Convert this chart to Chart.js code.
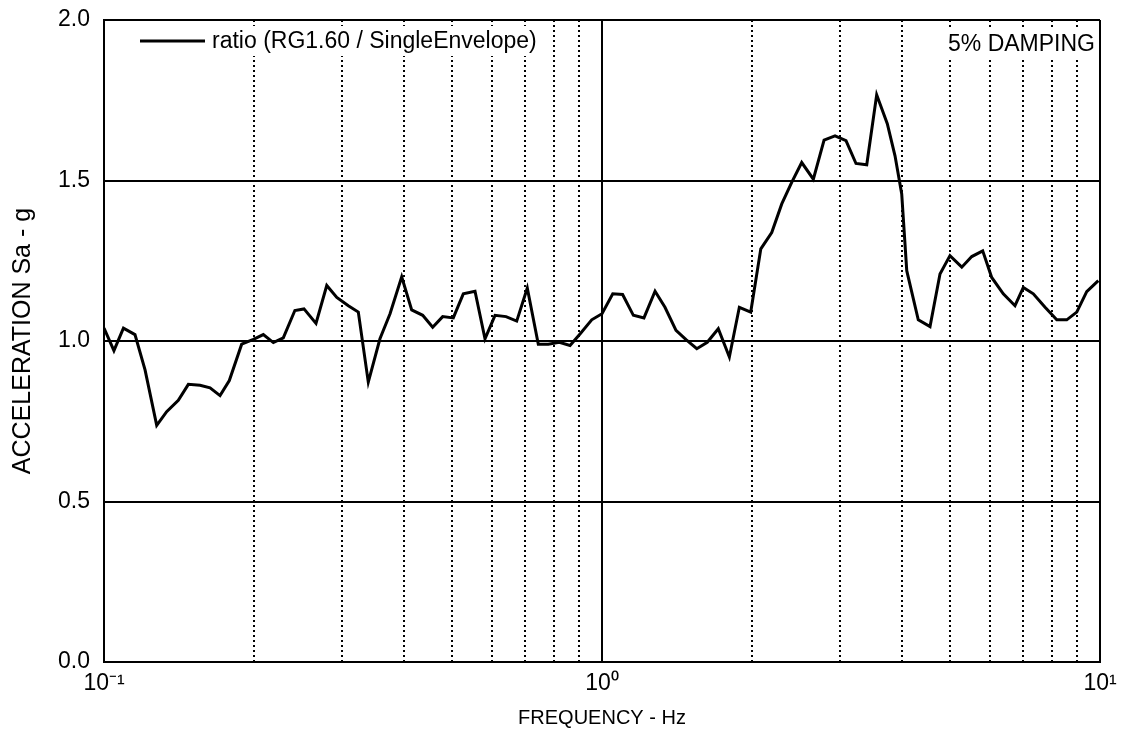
<!DOCTYPE html>
<html>
<head>
<meta charset="utf-8">
<script src="https://cdn.jsdelivr.net/npm/chart.js@4.4.1/dist/chart.umd.min.js"></script>
<style>
  html, body { margin: 0; padding: 0; background: #fff; }
  #wrap { width: 1121px; height: 744px; }
</style>
</head>
<body>
<div id="wrap"><canvas id="chart"></canvas></div>
<script>
// frequency (Hz) and spectral ratio
const frequency = [
  0.100, 0.1047, 0.1094, 0.1154, 0.1209, 0.1276, 0.1336, 0.1410, 0.1477, 0.1559,
  0.1633, 0.1710, 0.1785, 0.1890, 0.1995, 0.2089, 0.2188, 0.2291, 0.2417, 0.2521,
  0.2665, 0.2801, 0.2934, 0.3095, 0.3241, 0.3394, 0.3582, 0.3753, 0.3961, 0.4148,
  0.4365, 0.4571, 0.4787, 0.5028, 0.5266, 0.5559, 0.5822, 0.6098, 0.6417, 0.6741,
  0.7079, 0.7449, 0.7800, 0.8210, 0.8625, 0.9033, 0.9535, 1.000, 1.051, 1.100,
  1.156, 1.214, 1.278, 1.338, 1.408, 1.475, 1.550, 1.627, 1.712, 1.802,
  1.887, 1.989, 2.084, 2.192, 2.296, 2.404, 2.518, 2.657, 2.792, 2.937,
  3.090, 3.236, 3.401, 3.561, 3.740, 3.876, 3.998, 4.092, 4.316, 4.557,
  4.772, 4.997, 5.278, 5.527, 5.814, 6.061, 6.394, 6.750, 7.015, 7.347,
  7.757, 8.188, 8.575, 8.981, 9.404, 9.922
];
const ratio = [
  1.04, 0.97, 1.04, 1.02, 0.91, 0.737, 0.78, 0.815, 0.865, 0.862,
  0.854, 0.83, 0.877, 0.99, 1.005, 1.02, 0.995, 1.01, 1.095, 1.10,
  1.055, 1.173, 1.136, 1.11, 1.09, 0.872, 1.007, 1.085, 1.20, 1.097,
  1.08, 1.043, 1.076, 1.072, 1.147, 1.155, 1.007, 1.08, 1.076, 1.062,
  1.165, 0.99, 0.99, 0.996, 0.986, 1.022, 1.066, 1.085, 1.147, 1.145,
  1.08, 1.072, 1.155, 1.105, 1.033, 1.004, 0.976, 0.996, 1.038, 0.95,
  1.105, 1.09, 1.287, 1.338, 1.427, 1.494, 1.556, 1.504, 1.626, 1.639,
  1.624, 1.553, 1.549, 1.767, 1.677, 1.577, 1.458, 1.219, 1.066, 1.045,
  1.209, 1.266, 1.23, 1.263, 1.281, 1.198, 1.147, 1.11, 1.167, 1.147,
  1.105, 1.066, 1.066, 1.09, 1.154, 1.188
];

const seriesLabel = 'ratio (RG1.60 / SingleEnvelope)';
const noteText = '5% DAMPING';
const xMajorTicks = [0.1, 1, 10];
const xMajorLabels = ['10\u207B\u00B9', '10\u2070', '10\u00B9'];
const xMinorTicks = [0.2, 0.3, 0.4, 0.5, 0.6, 0.7, 0.8, 0.9, 2, 3, 4, 5, 6, 7, 8, 9];
const yTicks = [0, 0.5, 1.0, 1.5, 2.0];

const FONT = 'Arial, "Liberation Sans", sans-serif';

// legend box and damping note, drawn inside the plot
const overlayText = {
  id: 'overlayText',
  beforeDatasetsDraw(chart) {
    const { ctx, chartArea } = chart;
    const ds = chart.data.datasets[0];
    ctx.save();
    ctx.font = '23px ' + FONT;
    ctx.textBaseline = 'middle';

    // legend
    const ly = chartArea.top + 21;
    const lx = chartArea.left + 36;
    const tw = ctx.measureText(ds.label).width;
    ctx.fillStyle = '#fff';
    ctx.fillRect(lx - 4, ly - 15, 72 + tw + 8, 30);
    ctx.strokeStyle = ds.borderColor;
    ctx.lineWidth = ds.borderWidth;
    ctx.beginPath();
    ctx.moveTo(lx, ly);
    ctx.lineTo(lx + 65, ly);
    ctx.stroke();
    ctx.fillStyle = '#000';
    ctx.textAlign = 'left';
    ctx.fillText(ds.label, lx + 72, ly + 1);

    // note
    const nx = chartArea.right - 5;
    const ny = chartArea.top + 24;
    const nw = ctx.measureText(noteText).width;
    ctx.fillStyle = '#fff';
    ctx.fillRect(nx - nw - 4, ny - 14, nw + 8, 28);
    ctx.fillStyle = '#000';
    ctx.textAlign = 'right';
    ctx.fillText(noteText, nx, ny + 1);
    ctx.restore();
  }
};

const points = frequency.map((f, i) => ({ x: f, y: ratio[i] }));

new Chart(document.getElementById('chart'), {
  type: 'line',
  data: {
    datasets: [{
      label: seriesLabel,
      data: points,
      borderColor: '#000',
      borderWidth: 3,
      pointRadius: 0,
      tension: 0,
      fill: false
    }]
  },
  options: {
    responsive: true,
    maintainAspectRatio: false,
    animation: false,
    layout: { padding: { top: 20, right: 21, left: 0, bottom: 0 } },
    plugins: {
      legend: { display: false },
      tooltip: { enabled: false }
    },
    scales: {
      x: {
        type: 'logarithmic',
        position: 'bottom',
        min: 0.1,
        max: 10,
        afterBuildTicks: s => { s.ticks = xMajorTicks.map(v => ({ value: v })); },
        afterFit: s => { s.height = 82; s.paddingLeft = 0; s.paddingRight = 0; },
        ticks: {
          autoSkip: false,
          maxRotation: 0,
          padding: 8,
          color: '#000',
          font: { family: FONT, size: 23 },
          callback: v => {
            const i = xMajorTicks.indexOf(v);
            return i >= 0 ? xMajorLabels[i] : '';
          }
        },
        grid: { color: '#000', lineWidth: 2, drawTicks: false },
        border: { color: '#000', width: 2 },
        title: {
          display: true,
          text: 'FREQUENCY - Hz',
          color: '#000',
          font: { family: FONT, size: 20 },
          padding: { top: 0, bottom: 14 }
        }
      },
      xMinor: {
        type: 'logarithmic',
        position: 'bottom',
        min: 0.1,
        max: 10,
        afterBuildTicks: s => { s.ticks = xMinorTicks.map(v => ({ value: v })); },
        afterFit: s => { s.height = 0; s.paddingLeft = 0; s.paddingRight = 0; },
        ticks: { display: false },
        grid: { color: '#000', lineWidth: 2, drawTicks: false },
        border: { display: false, dash: [2, 3] }
      },
      y: {
        min: 0,
        max: 2,
        afterBuildTicks: s => { s.ticks = yTicks.map(v => ({ value: v })); },
        afterFit: s => { s.width = 104; s.paddingTop = 0; s.paddingBottom = 0; },
        ticks: {
          padding: 14,
          color: '#000',
          font: { family: FONT, size: 23 },
          callback: v => v.toFixed(1)
        },
        grid: { color: '#000', lineWidth: 2, drawTicks: false },
        border: { color: '#000', width: 2 },
        title: {
          display: true,
          text: 'ACCELERATION Sa - g',
          color: '#000',
          font: { family: FONT, size: 25 },
          padding: { top: 8, bottom: 0 }
        }
      }
    }
  },
  plugins: [overlayText]
});
</script>
</body>
</html>
